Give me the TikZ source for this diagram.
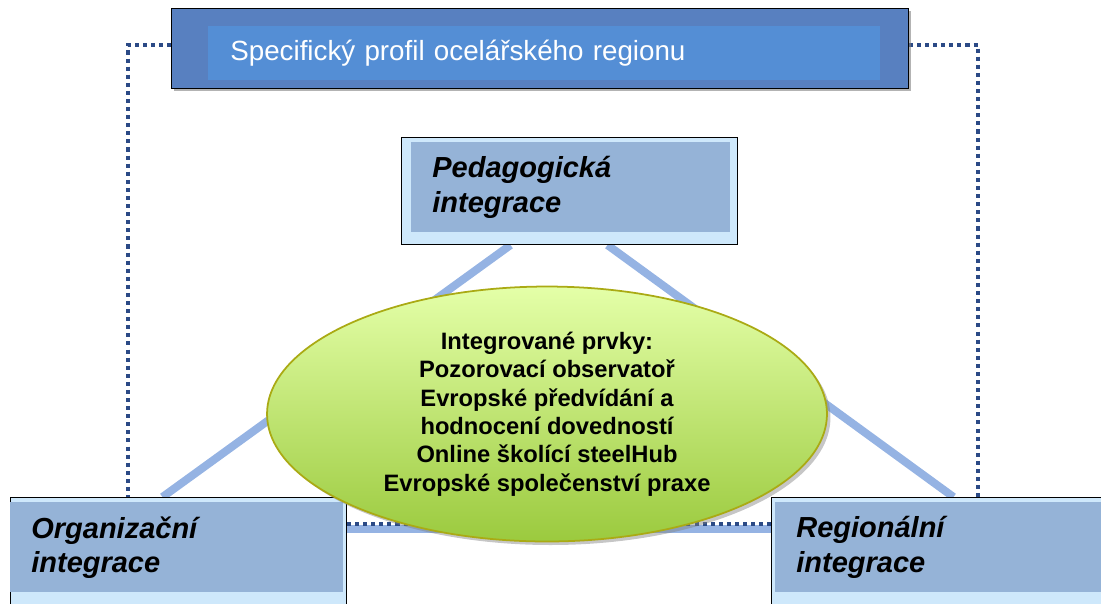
\documentclass[tikz,border=0pt]{standalone}
\usepackage{fontspec}
\setmainfont{Liberation Sans}
\usetikzlibrary{shapes.geometric,shadows,backgrounds}
\definecolor{topouter}{RGB}{88,128,192}
\definecolor{topinner}{RGB}{84,142,213}
\definecolor{palebox}{RGB}{206,232,251}
\definecolor{midbox}{RGB}{149,179,215}
\definecolor{triline}{RGB}{149,179,227}
\definecolor{dotblue}{RGB}{43,74,134}
\definecolor{eltop}{RGB}{228,255,168}
\definecolor{elbottom}{RGB}{155,202,62}
\definecolor{elborder}{RGB}{170,170,20}
\begin{document}
\begin{tikzpicture}[x=0.02cm,y=-0.02cm,
	outerbox/.style={draw=black,line width=0.6pt,fill=palebox,anchor=north west,
		inner sep=0pt,minimum width=6.72cm,minimum height=2.14cm},
	labelbox/.style={fill=midbox,anchor=north west,inner xsep=0.42cm,inner ysep=0pt,
		minimum height=1.8cm,align=left,
		font=\bfseries\itshape\fontsize{16.5}{19.5}\selectfont},
	triside/.style={triline,line width=0.16cm},
	dotframe/.style={dotblue,line width=2.3pt,dash pattern=on 2.3pt off 2.3pt}]
\useasboundingbox (0,0) rectangle (1101,603);

% top banner
\node[draw=black,line width=0.6pt,fill=topouter,anchor=north west,inner sep=0pt,
	minimum width=14.74cm,minimum height=1.6cm,
	drop shadow={shadow xshift=1.5pt,shadow yshift=-1.5pt,opacity=0.6}] (top) at (171,8) {};
\node[fill=topinner,anchor=north west,inner xsep=0.44cm,inner ysep=0pt,
	minimum height=1.08cm,text width=12.56cm,align=left,text=white,
	font=\fontsize{15.8}{19}\selectfont] (toptxt) at (208,26) {Specifický profil ocelářského regionu};

% the three boxes
\node[outerbox] (ped) at (401,137) {};
\node[labelbox,text width=5.54cm] (pedtxt) at (411,142) {Pedagogická\\integrace};
\node[outerbox] (org) at (10,497) {};
\node[labelbox,text width=5.82cm] (orgtxt) at (10,502) {Organizační\\integrace};
\node[outerbox] (reg) at (771,497) {};
\node[labelbox,text width=5.86cm] (regtxt) at (775,502) {Regionální\\integrace};

% dotted frame
\coordinate (lt) at (128,45);
\coordinate (rt) at (978,45);
\begin{scope}[on background layer]
\draw[triside] ([xshift=-1.18cm]ped.south) -- ([xshift=-0.32cm]org.north);
\draw[triside] ([xshift=0.76cm]ped.south) -- ([xshift=0.28cm]reg.north);
\draw[triside] ([yshift=0.45cm]org.east) -- ([yshift=0.45cm]reg.west);
\draw[dotframe] (top.west |- lt) -- (lt) -- (org.north -| lt);
\draw[dotframe] (top.east |- rt) -- (rt) -- (reg.north -| rt);
\draw[dotframe] ([yshift=0.55cm]org.east) -- ([yshift=0.55cm]reg.west);
\end{scope}

% centre
\node[ellipse,draw=elborder,line width=1pt,top color=eltop,bottom color=elbottom,
	minimum width=11.2cm,minimum height=5.1cm,inner sep=0pt,align=center,
	drop shadow={shadow xshift=2pt,shadow yshift=-2pt,opacity=0.45},
	font=\bfseries\fontsize{13.5}{16.2}\selectfont] (elems) at (547,414)
	{Integrované prvky:\\Pozorovací observatoř\\Evropské předvídání a\\hodnocení dovedností\\Online školící steelHub\\Evropské společenství praxe};
\end{tikzpicture}
\end{document}
